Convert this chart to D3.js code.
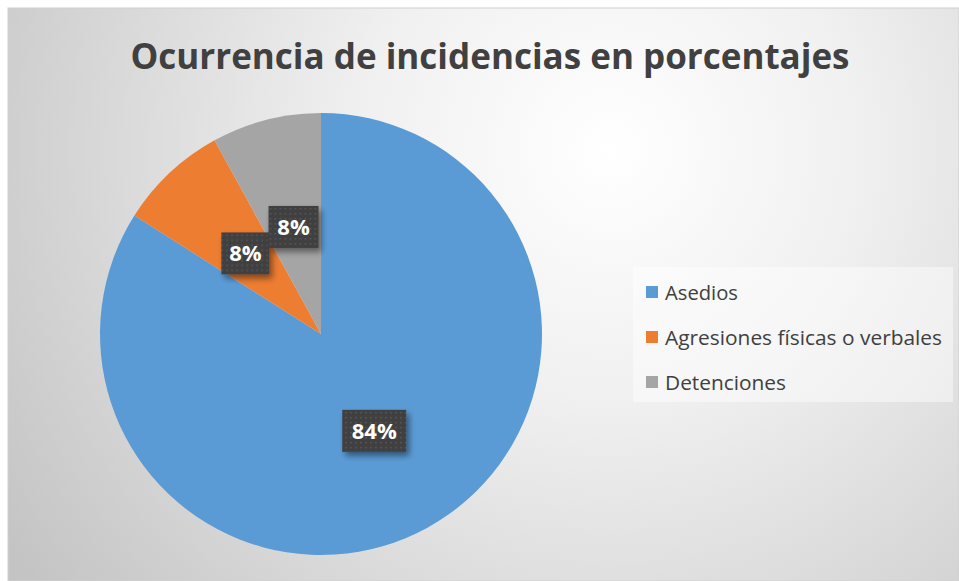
<!DOCTYPE html>
<html><head><meta charset="utf-8">
<script src="https://cdn.jsdelivr.net/npm/d3@7"></script>
<style>html,body{margin:0;padding:0;background:#fff;overflow:hidden}</style>
</head><body>
<svg id="chart" width="959" height="581"></svg>
<script>
const title = "Ocurrencia de incidencias en porcentajes";
const categories = ["Asedios", "Agresiones físicas o verbales", "Detenciones"];
const values = [84, 8, 8];
const labels = ["84%", "8%", "8%"];
const colors = ["#5B9BD5", "#ED7D31", "#A5A5A5"];

const svg = d3.select("#chart");
const W = 959, H = 581;
const defs = svg.append("defs");

const bg = defs.append("radialGradient").attr("id","bg")
  .attr("gradientUnits","userSpaceOnUse").attr("cx",610).attr("cy",150).attr("r",720);
bg.append("stop").attr("offset","0").attr("stop-color","#ffffff");
bg.append("stop").attr("offset","0.35").attr("stop-color","#f0f0f0");
bg.append("stop").attr("offset","1").attr("stop-color","#c4c4c4");

const pat = defs.append("pattern").attr("id","dots").attr("patternUnits","userSpaceOnUse")
  .attr("width",5).attr("height",5);
pat.append("rect").attr("width",5).attr("height",5).attr("fill","#404040");
pat.append("rect").attr("x",1).attr("y",1).attr("width",1.5).attr("height",1.5).attr("fill","#5a5a5a");

const sh = defs.append("filter").attr("id","shadow").attr("x","-30%").attr("y","-30%").attr("width","170%").attr("height","170%");
sh.append("feGaussianBlur").attr("in","SourceAlpha").attr("stdDeviation",3);
sh.append("feOffset").attr("dx",3).attr("dy",4).attr("result","b");
sh.append("feComponentTransfer").append("feFuncA").attr("type","linear").attr("slope",0.45);
const m = sh.append("feMerge"); m.append("feMergeNode"); m.append("feMergeNode").attr("in","SourceGraphic");

svg.append("rect").attr("x",8).attr("y",8).attr("width",W-8).attr("height",H-8)
  .attr("fill","url(#bg)").attr("stroke","#d0d0d0");

svg.append("text").attr("x",490).attr("y",69).attr("text-anchor","middle")
  .attr("font-family","Open Sans, Noto Sans, sans-serif").attr("font-weight","bold")
  .attr("font-size",35).attr("fill","#404040")
  .attr("textLength",719).attr("lengthAdjust","spacingAndGlyphs").text(title);

const cx = 321, cy = 334, R = 221;
const pie = d3.pie().sort(null).value(d => d)(values);
const arc = d3.arc().innerRadius(0).outerRadius(R);
const g = svg.append("g").attr("transform",`translate(${cx},${cy})`);
g.selectAll("path").data(pie).join("path").attr("d",arc).attr("fill",(d,i)=>colors[i]);

const boxW = [64, 48, 50];
const lg = g.selectAll("g.lbl").data(pie).join("g").attr("class","lbl")
  .attr("transform",d=>{const c=arc.centroid(d);return `translate(${c[0]},${c[1]})`;});
lg.append("rect").attr("x",(d,i)=>-boxW[i]/2).attr("y",-21).attr("width",(d,i)=>boxW[i]).attr("height",42)
  .attr("fill","url(#dots)").attr("filter","url(#shadow)");
lg.append("text").attr("text-anchor","middle").attr("y",8)
  .attr("font-family","Open Sans, Noto Sans, sans-serif").attr("font-weight","bold")
  .attr("font-size",22).attr("fill","#ffffff").text((d,i)=>labels[i]);

const leg = svg.append("g");
leg.append("rect").attr("x",633).attr("y",267).attr("width",320).attr("height",135)
  .attr("fill","#ffffff").attr("fill-opacity",0.45);
const legW = [73, 277, 121];
const items = leg.selectAll("g.it").data(categories).join("g").attr("class","it")
  .attr("transform",(d,i)=>`translate(646,${292 + i*45})`);
items.append("rect").attr("x",0).attr("y",-6).attr("width",12).attr("height",12).attr("fill",(d,i)=>colors[i]);
items.append("text").attr("x",19).attr("y",8)
  .attr("font-family","Open Sans, Noto Sans, sans-serif").attr("font-size",20).attr("fill","#404040")
  .attr("textLength",(d,i)=>legW[i]).attr("lengthAdjust","spacingAndGlyphs").text(d=>d);
</script>
</body></html>
